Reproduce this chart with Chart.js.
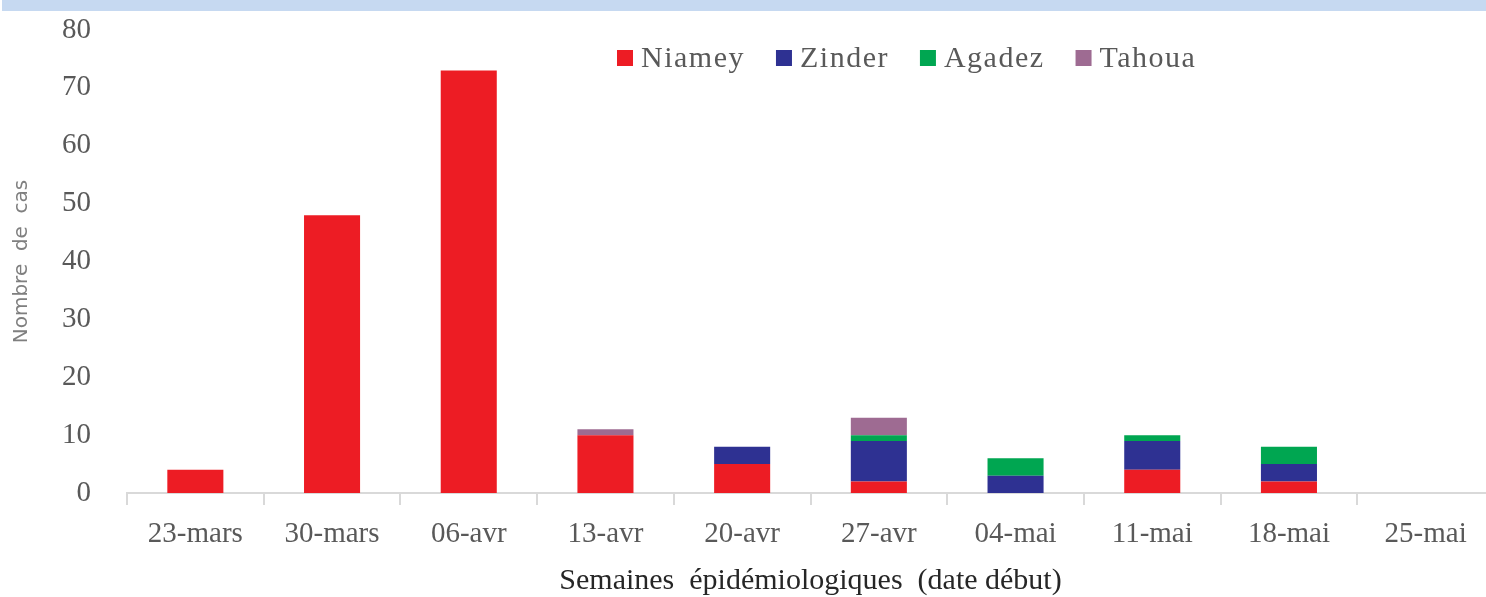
<!DOCTYPE html>
<html>
<head>
<meta charset="utf-8">
<script src="https://cdn.jsdelivr.net/npm/chart.js@4.4.1/dist/chart.umd.min.js"></script>
<style>
  html, body { margin: 0; padding: 0; background: #fff; overflow: hidden; }
  #wrap { width: 1494px; height: 597px; position: relative; }
</style>
</head>
<body>
<div id="wrap"><canvas id="myChart"></canvas></div>
<script>
// data
const semaines = ['23-mars', '30-mars', '06-avr', '13-avr', '20-avr', '27-avr', '04-mai', '11-mai', '18-mai', '25-mai'];
const niamey = [4, 48, 73, 10, 5, 2, 0, 4, 2, 0];
const zinder = [0, 0, 0, 0, 3, 7, 3, 5, 3, 0];
const agadez = [0, 0, 0, 0, 0, 1, 3, 1, 3, 0];
const tahoua = [0, 0, 0, 1, 0, 3, 0, 0, 0, 0];
const yTicks = [0, 10, 20, 30, 40, 50, 60, 70, 80];

const serif = "'Liberation Serif', 'Times New Roman', serif";
const grey = '#595959';

// light blue band on top + legend drawn inside the plot
const decor = {
    id: 'decor',
    beforeDraw(chart) {
        const c = chart.ctx;
        c.save();
        c.fillStyle = '#c6d9f1';
        c.fillRect(2, 0, 1484, 11);
        c.restore();
    },
    afterDraw(chart) {
        const c = chart.ctx;
        c.save();
        c.font = '30px ' + serif;
        c.letterSpacing = '1.5px';
        c.textBaseline = 'middle';
        let x = 617;
        const y = 58;
        chart.data.datasets.forEach(ds => {
            c.fillStyle = ds.backgroundColor;
            c.fillRect(x, y - 8, 16, 16);
            c.fillStyle = grey;
            c.fillText(ds.label, x + 24, y + 1);
            x += 24 + c.measureText(ds.label).width + 31;
        });
        c.restore();
    }
};

const ctx = document.getElementById('myChart').getContext('2d');
const myChart = new Chart(ctx, {
    type: 'bar',
    data: {
        labels: semaines,
        datasets: [
            { label: 'Niamey', data: niamey, backgroundColor: '#ed1c24' },
            { label: 'Zinder', data: zinder, backgroundColor: '#2e3192' },
            { label: 'Agadez', data: agadez, backgroundColor: '#00a651' },
            { label: 'Tahoua', data: tahoua, backgroundColor: '#9e6b92' }
        ]
    },
    options: {
        responsive: true,
        maintainAspectRatio: false,
        animation: false,
        datasets: {
            bar: { categoryPercentage: 1, barPercentage: 0.41 }
        },
        layout: {
            padding: { top: 30, left: 0, right: 0, bottom: 0 }
        },
        scales: {
            x: {
                stacked: true,
                afterFit(scale) { scale.height = 104; },
                grid: {
                    offset: true,
                    drawOnChartArea: false,
                    color: '#d9d9d9',
                    tickLength: 12,
                    lineWidth: 2
                },
                border: { color: '#d9d9d9', width: 2 },
                ticks: {
                    color: grey,
                    font: { family: serif, size: 29 },
                    padding: 12,
                    maxRotation: 0
                },
                title: {
                    display: true,
                    text: 'Semaines  épidémiologiques  (date début)',
                    color: '#262626',
                    font: { family: serif, size: 30 },
                    padding: { top: 0, bottom: -2 }
                }
            },
            y: {
                stacked: true,
                min: 0,
                max: 80,
                afterFit(scale) {
                    scale.width = 127;
                    scale.paddingTop = 0;
                    scale.paddingBottom = 0;
                },
                afterBuildTicks(axis) {
                    axis.ticks = yTicks.map(v => ({ value: v }));
                },
                grid: { display: false },
                border: { display: false },
                ticks: {
                    color: grey,
                    font: { family: serif, size: 29 },
                    padding: 28
                },
                title: {
                    display: true,
                    text: 'Nombre  de  cas',
                    color: '#7f7f7f',
                    font: { family: "'DejaVu Sans', sans-serif", size: 20 },
                    padding: { top: 10, bottom: 0 }
                }
            }
        },
        plugins: {
            legend: { display: false },
            tooltip: { enabled: false }
        }
    },
    plugins: [decor]
});
</script>
</body>
</html>
